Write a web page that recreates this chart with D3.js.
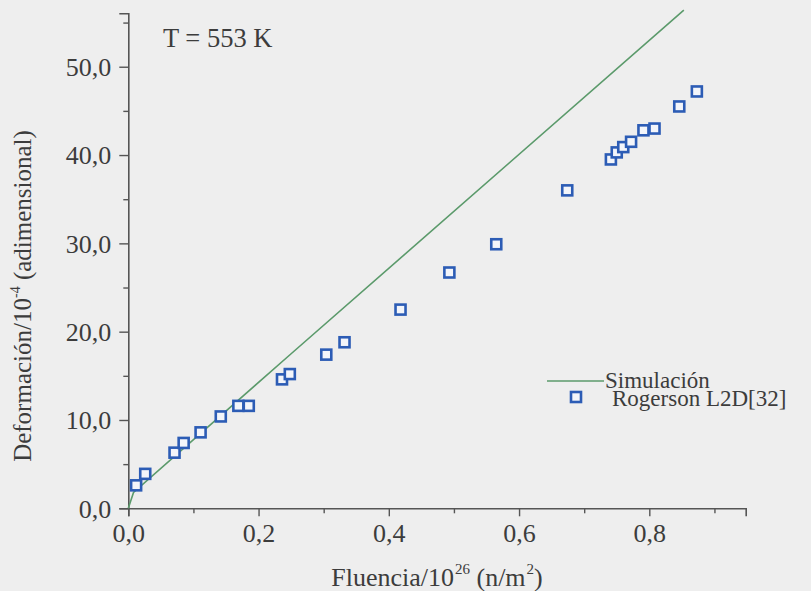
<!DOCTYPE html>
<html>
<head>
<meta charset="utf-8">
<script src="https://cdn.jsdelivr.net/npm/d3@7"></script>
<style>
  html, body { margin: 0; padding: 0; background: #eeeeee; }
  svg { display: block; }
</style>
</head>
<body>
<svg id="chart" width="811" height="591"></svg>
<script>
// Measured swelling strain (Rogerson L2D) against neutron fluence
const fluence = [0.012, 0.026, 0.071, 0.085, 0.111, 0.142, 0.169, 0.185, 0.236, 0.248,
                 0.304, 0.332, 0.418, 0.493, 0.565, 0.674, 0.741, 0.750, 0.760, 0.772,
                 0.791, 0.808, 0.846, 0.873];
const strain  = [2.6, 3.9, 6.3, 7.4, 8.6, 10.4, 11.6, 11.6, 14.6, 15.2,
                 17.4, 18.8, 22.5, 26.7, 29.9, 36.0, 39.5, 40.3, 40.9, 41.5,
                 42.8, 43.0, 45.5, 47.2];

// Simulated curve
const simFluence = [0, 0.008, 0.25, 0.853];
const simStrain  = [0, 1.8, 17.5, 56.4];

const xMajorTicks = [0, 0.2, 0.4, 0.6, 0.8];
const xMinorTicks = [0.1, 0.3, 0.5, 0.7, 0.9];
const yMajorTicks = [0, 10, 20, 30, 40, 50];
const yMinorTicks = [5, 15, 25, 35, 45, 55];

const titleText = "T = 553 K";
const legendLabels = ["Simulación", "Rogerson L2D[32]"];

const FONT = "'Liberation Serif', 'Times New Roman', Times, 'DejaVu Serif', serif";
const textColor = "#3c3c3c";
const axisColor = "#555555";
const lineColor = "#5b9a6b";
const markColor = "#2c5cb5";

const svg = d3.select("#chart");

const x = d3.scaleLinear().domain([0, 0.948]).range([128.3, 745.7]);
const y = d3.scaleLinear().domain([0, 56.05]).range([508.3, 13.3]);

const fmt = v => d3.format(".1f")(v).replace(".", ",");

// X axis: major ticks with labels, minor ticks without
const gx = svg.append("g").attr("transform", `translate(0,${y(0)})`);
gx.call(d3.axisBottom(x).tickValues(xMajorTicks).tickFormat(fmt).tickSize(8).tickPadding(6));
gx.append("g").call(d3.axisBottom(x).tickValues(xMinorTicks).tickFormat("").tickSize(5))
  .select(".domain").remove();

// Y axis
const gy = svg.append("g").attr("transform", `translate(${x(0)},0)`);
gy.call(d3.axisLeft(y).tickValues(yMajorTicks).tickFormat(fmt).tickSize(9).tickPadding(8));
gy.append("g").call(d3.axisLeft(y).tickValues(yMinorTicks).tickFormat("").tickSize(5))
  .select(".domain").remove();

svg.selectAll(".domain").attr("stroke", axisColor).attr("stroke-width", 1.6);
svg.selectAll(".tick line").attr("stroke", axisColor).attr("stroke-width", 1.4);
gx.attr("font-family", null).attr("font-size", null);
gy.attr("font-family", null).attr("font-size", null);
svg.selectAll(".tick text")
  .style("font-family", FONT)
  .style("font-size", "26px")
  .attr("fill", textColor);
gx.selectAll(".tick text").attr("dy", "0.76em");
gy.selectAll(".tick text").attr("dy", "0.34em");

// Simulation line
const simData = simFluence.map((f, i) => [f, simStrain[i]]);
svg.append("path")
  .datum(simData)
  .attr("fill", "none")
  .attr("stroke", lineColor)
  .attr("stroke-width", 1.6)
  .attr("d", d3.line().x(d => x(d[0])).y(d => y(d[1])));

// Measured points as open squares
const side = 10;
svg.append("g").selectAll("rect")
  .data(fluence.map((f, i) => [f, strain[i]]))
  .join("rect")
  .attr("x", d => x(d[0]) - side / 2)
  .attr("y", d => y(d[1]) - side / 2)
  .attr("width", side)
  .attr("height", side)
  .attr("fill", "#f3f5fa")
  .attr("stroke", markColor)
  .attr("stroke-width", 2.6);

function label(sel, size) {
  return sel.style("font-family", FONT).style("font-size", size + "px").attr("fill", textColor);
}

// Temperature label
label(svg.append("text"), 26.5)
  .attr("x", 163).attr("y", 46.5)
  .text(titleText);

// Axis titles
const xt = label(svg.append("text"), 26)
  .attr("x", 437).attr("y", 586)
  .attr("text-anchor", "middle");
xt.append("tspan").text("Fluencia/10");
xt.append("tspan").style("font-size", "15px").attr("dx", 1).attr("dy", -12).text("26");
xt.append("tspan").attr("dy", 12).text(" (n/m");
xt.append("tspan").style("font-size", "15px").attr("dx", 1).attr("dy", -12).text("2");
xt.append("tspan").attr("dy", 12).text(")");

const yt = label(svg.append("text"), 25)
  .attr("transform", "translate(31,296) rotate(-90)")
  .attr("text-anchor", "middle");
yt.append("tspan").text("Deformación/10");
yt.append("tspan").style("font-size", "14px").attr("dy", -11).text("-4");
yt.append("tspan").attr("dy", 11).text(" (adimensional)");

// Legend
const lg = svg.append("g");
lg.append("line")
  .attr("x1", 547).attr("x2", 604)
  .attr("y1", 381).attr("y2", 381)
  .attr("stroke", lineColor).attr("stroke-width", 1.6);
label(lg.append("text"), 23).attr("x", 605).attr("y", 388).text(legendLabels[0]);
lg.append("rect")
  .attr("x", 576 - side / 2).attr("y", 397 - side / 2)
  .attr("width", side).attr("height", side)
  .attr("fill", "#f3f5fa").attr("stroke", markColor).attr("stroke-width", 2.6);
label(lg.append("text"), 23).attr("x", 612).attr("y", 406).text(legendLabels[1]);
</script>
</body>
</html>
